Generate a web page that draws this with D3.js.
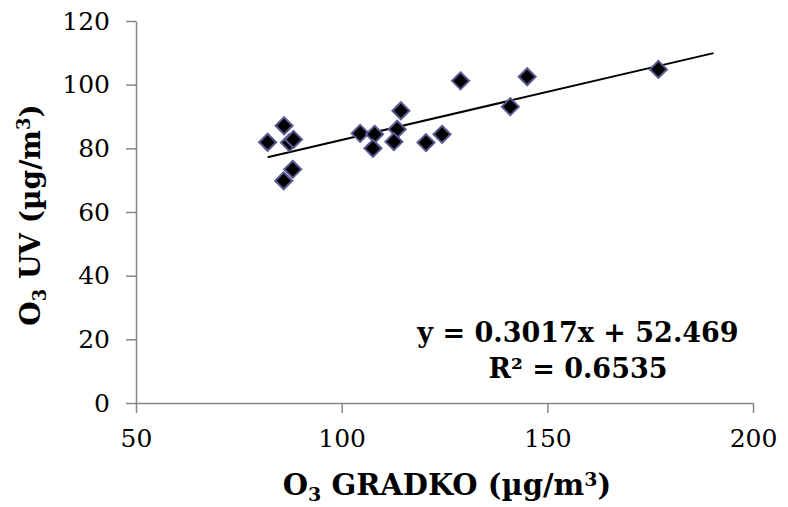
<!DOCTYPE html>
<html>
<head>
<meta charset="utf-8">
<script src="https://cdn.jsdelivr.net/npm/d3@7"></script>
<style>
  body { margin: 0; background: #fff; }
  text { font-family: Georgia, "DejaVu Serif", serif; }
</style>
</head>
<body>
<div class="plot"></div>
<script>
// O3 GRADKO (x) vs O3 UV (y)
const gradko = [82.0, 86.0, 87.3, 88.3, 88.1, 85.9, 104.5, 108.0, 107.6, 114.4, 113.5, 112.7, 120.5, 124.4, 128.9, 145.1, 141.0, 177.0];
const uv     = [81.9, 87.1, 81.8, 82.8, 73.4, 69.8, 84.7, 84.4, 80.0, 91.8, 86.0, 82.1, 81.8, 84.4, 101.2, 102.5, 93.1, 104.8];
const xTicks = [50, 100, 150, 200];
const yTicks = [0, 20, 40, 60, 80, 100, 120];
const slope = 0.3017, intercept = 52.469;
const trendRange = [82, 190.4];

const points = gradko.map((x, i) => ({x: x, y: uv[i]}));

const width = 788;
const height = 507;
const svg = d3.select('.plot')
    .append('svg')
    .attr('width', width)
    .attr('height', height);

const x = d3.scaleLinear().domain([50, 200]).range([136, 753]);
const y = d3.scaleLinear().domain([0, 120]).range([403, 21]);

const axisColor = '#868686';

// axes
const xAxis = svg.append('g')
    .attr('transform', `translate(0,${y(0)})`)
    .call(d3.axisBottom(x).tickValues(xTicks).tickSize(10).tickPadding(16).tickSizeOuter(0));
const yAxis = svg.append('g')
    .attr('transform', `translate(${x(50)},0)`)
    .call(d3.axisLeft(y).tickValues(yTicks).tickSize(10).tickPadding(16).tickSizeOuter(0));

[xAxis, yAxis].forEach(g => {
    g.select('.domain').attr('stroke', axisColor).attr('stroke-width', 1.5);
    g.selectAll('.tick line').attr('stroke', axisColor).attr('stroke-width', 1.5);
    g.selectAll('.tick text')
        .attr('fill', '#000')
        .style('font-size', '25px')
        .style('font-family', 'Georgia, "DejaVu Serif", serif');
});

// trend line
svg.append('line')
    .attr('x1', x(trendRange[0]))
    .attr('y1', y(slope * trendRange[0] + intercept))
    .attr('x2', x(trendRange[1]))
    .attr('y2', y(slope * trendRange[1] + intercept))
    .attr('stroke', '#000')
    .attr('stroke-width', 2);

// diamonds
svg.selectAll('path.pt')
    .data(points)
    .enter()
    .append('path')
    .attr('class', 'pt')
    .attr('d', d3.symbol().type(d3.symbolDiamond2).size(185))
    .attr('transform', d => `translate(${x(d.x)},${y(d.y)})`)
    .attr('fill', '#000')
    .attr('stroke', '#5a5a92')
    .attr('stroke-width', 2);

// equation
svg.append('text')
    .attr('x', 578).attr('y', 342)
    .attr('text-anchor', 'middle')
    .attr('font-weight', 'bold')
    .attr('font-size', 27)
    .text('y = 0.3017x + 52.469');
svg.append('text')
    .attr('x', 578).attr('y', 378)
    .attr('text-anchor', 'middle')
    .attr('font-weight', 'bold')
    .attr('font-size', 27)
    .text('R² = 0.6535');

// x title
const xt = svg.append('text')
    .attr('x', 447).attr('y', 495)
    .attr('text-anchor', 'middle')
    .attr('font-weight', 'bold')
    .attr('font-size', 29);
xt.append('tspan').text('O');
xt.append('tspan').text('3').attr('font-size', 19).attr('dy', 6);
xt.append('tspan').text(' GRADKO (µg/m').attr('dy', -6);
xt.append('tspan').text('3').attr('font-size', 19).attr('dy', -9);
xt.append('tspan').text(')').attr('dy', 9);

// y title
const yt = svg.append('text')
    .attr('transform', 'translate(40,215) rotate(-90)')
    .attr('text-anchor', 'middle')
    .attr('font-weight', 'bold')
    .attr('font-size', 28);
yt.append('tspan').text('O');
yt.append('tspan').text('3').attr('font-size', 18).attr('dy', 6);
yt.append('tspan').text(' UV (µg/m').attr('dy', -6);
yt.append('tspan').text('3').attr('font-size', 18).attr('dy', -10);
yt.append('tspan').text(')').attr('dy', 10);
</script>
</body>
</html>
